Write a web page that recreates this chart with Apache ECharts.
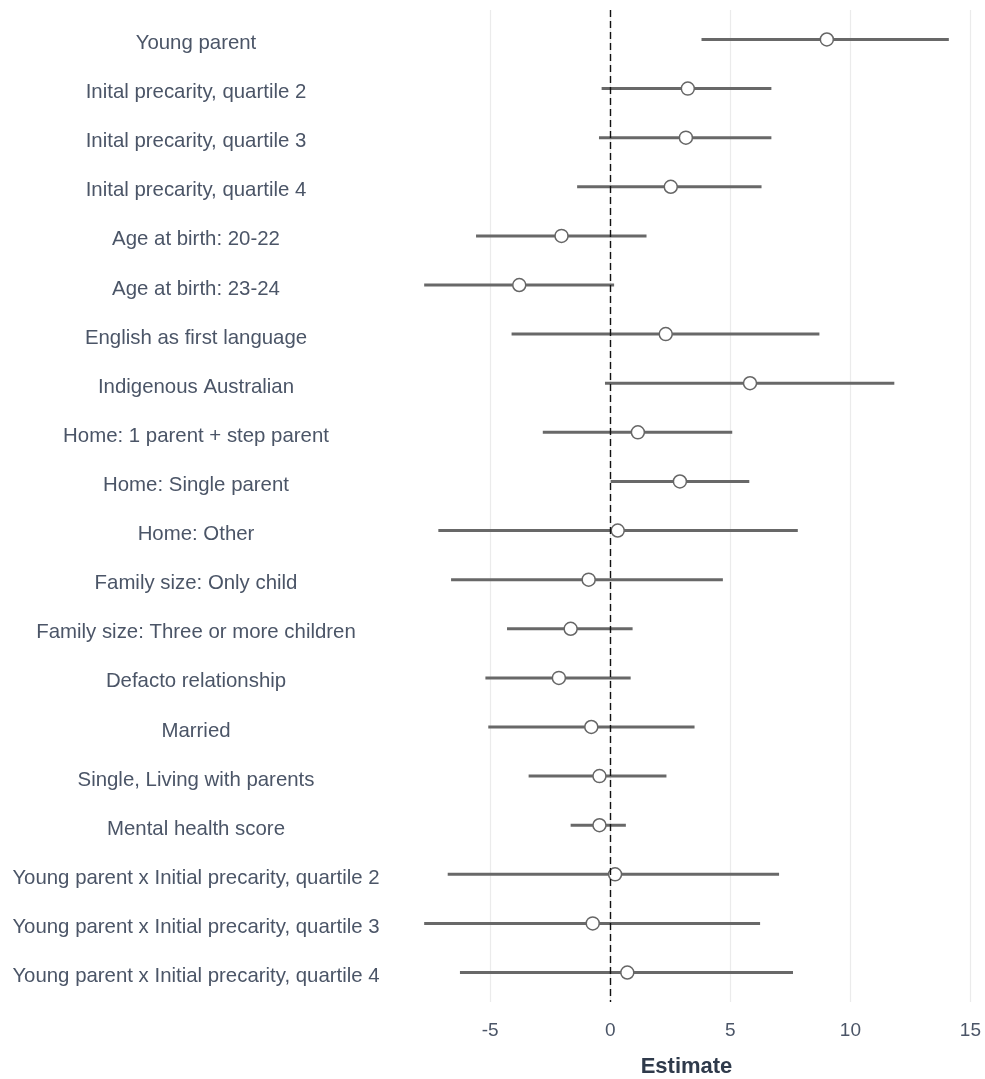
<!DOCTYPE html>
<html>
<head>
<meta charset="utf-8">
<title>Coefficient estimates</title>
<script src="https://cdn.jsdelivr.net/npm/echarts@6/dist/echarts.min.js"></script>
<style>
  html, body { margin: 0; padding: 0; background: #ffffff; }
  #chart { width: 985px; height: 1079px; }
</style>
</head>
<body>
<div id="chart"></div>
<script>
// Model terms, top to bottom
const terms = [
  'Young parent',
  'Inital precarity, quartile 2',
  'Inital precarity, quartile 3',
  'Inital precarity, quartile 4',
  'Age at birth: 20-22',
  'Age at birth: 23-24',
  'English as first language',
  'Indigenous Australian',
  'Home: 1 parent + step parent',
  'Home: Single parent',
  'Home: Other',
  'Family size: Only child',
  'Family size: Three or more children',
  'Defacto relationship',
  'Married',
  'Single, Living with parents',
  'Mental health score',
  'Young parent x Initial precarity, quartile 2',
  'Young parent x Initial precarity, quartile 3',
  'Young parent x Initial precarity, quartile 4'
];

// Point estimates
const estimate = [9.02, 3.23, 3.15, 2.52, -2.03, -3.79, 2.31, 5.82, 1.15, 2.90,
                  0.31, -0.90, -1.65, -2.14, -0.79, -0.45, -0.45, 0.20, -0.73, 0.71];

// Lower and upper interval bounds
const lower = [3.80, -0.36, -0.47, -1.38, -5.59, -7.75, -4.11, -0.22, -2.81, 0.02,
               -7.16, -6.63, -4.30, -5.20, -5.08, -3.40, -1.65, -6.77, -7.75, -6.26];
const upper = [14.10, 6.71, 6.71, 6.30, 1.51, 0.16, 8.71, 11.83, 5.08, 5.79,
               7.81, 4.69, 0.93, 0.85, 3.51, 2.34, 0.65, 7.03, 6.24, 7.61];

// Axis ticks
const xTicks = [-5, 0, 5, 10, 15];
const rowIndex = terms.map((_, i) => i);
// Term labels sit a touch below each row's centre line
const labelPos = rowIndex.map(i => i + 0.08);

const chart = echarts.init(document.getElementById('chart'), null, { renderer: 'canvas' });

const labelColor = '#4b5567';
const fontFamily = '"Liberation Sans", Arial, sans-serif';

const option = {
  animation: false,
  backgroundColor: '#ffffff',
  grid: {
    left: 398, right: 10, top: 10, bottom: 77,
    containLabel: false,
    outerBoundsMode: 'none'
  },
  xAxis: {
    type: 'value',
    min: -8.84,
    max: 15.19,
    name: 'Estimate',
    nameLocation: 'middle',
    nameGap: 54,
    nameTextStyle: { fontFamily, fontSize: 22, fontWeight: 'bold', color: '#2f3a4b' },
    axisLine: { show: false },
    axisTick: { show: false, customValues: xTicks },
    axisLabel: {
      customValues: xTicks,
      fontFamily, fontSize: 19, color: labelColor, margin: 19
    },
    splitLine: { show: true, lineStyle: { color: '#ebebeb', width: 1.2 } }
  },
  yAxis: {
    type: 'value',
    inverse: true,
    min: -0.6,
    max: 19.6,
    axisLine: { show: false },
    axisTick: { show: false, customValues: labelPos },
    splitLine: { show: false },
    axisLabel: {
      customValues: labelPos,
      formatter: v => terms[Math.round(v)] || '',
      align: 'center',
      margin: 202,
      fontFamily, fontSize: 20.4, color: labelColor
    }
  },
  series: [
    {
      // Confidence intervals
      type: 'custom',
      z: 2,
      encode: { x: [0, 1], y: 2 },
      data: terms.map((_, i) => [lower[i], upper[i], i]),
      renderItem: (params, api) => {
        const a = api.coord([api.value(0), api.value(2)]);
        const b = api.coord([api.value(1), api.value(2)]);
        return {
          type: 'line',
          shape: { x1: a[0], y1: a[1], x2: b[0], y2: b[1] },
          style: { stroke: '#686868', lineWidth: 3 }
        };
      }
    },
    {
      // Reference line at zero
      type: 'line',
      z: 3,
      data: [],
      markLine: {
        silent: true,
        symbol: ['none', 'none'],
        label: { show: false },
        lineStyle: { color: '#111111', width: 1.4, type: [7, 4] },
        data: [{ xAxis: 0 }]
      }
    },
    {
      // Point estimates
      type: 'scatter',
      z: 4,
      symbol: 'circle',
      symbolSize: 13,
      itemStyle: { color: '#ffffff', borderColor: '#666666', borderWidth: 1.5, opacity: 1 },
      data: terms.map((_, i) => [estimate[i], i])
    }
  ]
};

chart.setOption(option);
</script>
</body>
</html>
